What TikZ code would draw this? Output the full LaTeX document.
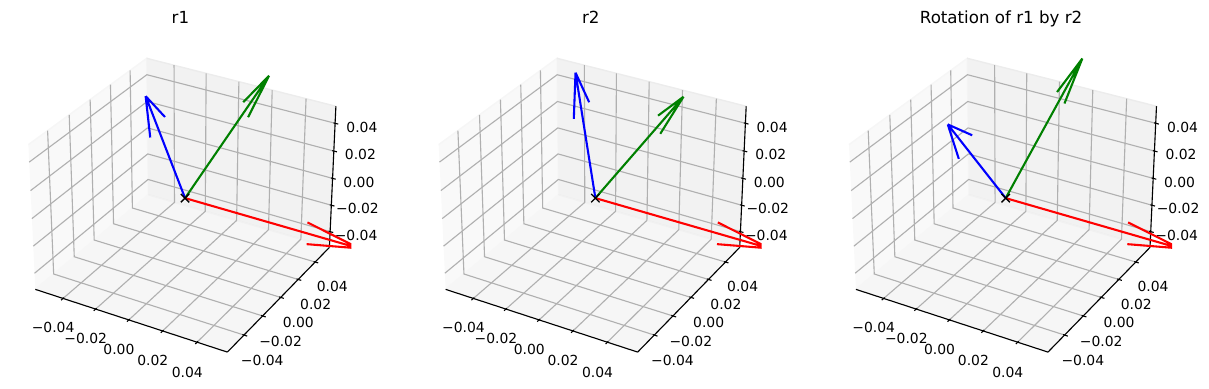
\documentclass[tikz,border=0pt]{standalone}
\usepackage{fontspec}
\setmainfont{DejaVu Sans}
\definecolor{gridc}{HTML}{B0B0B0}
\definecolor{xpanef}{gray}{0.975}
\definecolor{xpanee}{gray}{0.9625}
\definecolor{ypanef}{gray}{0.95}
\definecolor{ypanee}{gray}{0.925}
\definecolor{zpanef}{gray}{0.9625}
\definecolor{zpanee}{gray}{0.94375}
\definecolor{mplgreen}{rgb}{0,0.5,0}
\newcommand\mplL{9.5}
\newcommand\mplT{31.8}
% projection of a data point (x,y,z) of panel #2 to a named coordinate #1
\newcommand\pj[5]{%
  \pgfmathsetmacro\pjdX{10.389610*(#3)}%
  \pgfmathsetmacro\pjdY{10.389610*(#4)}%
  \pgfmathsetmacro\pjdZ{8.571429*(#5)}%
  \pgfmathsetmacro\pjden{10-0.4330127*(\pjdX)+0.75*(\pjdY)-0.5*(\pjdZ)}%
  \pgfmathsetmacro\pjX{\mplL+410.3*(#2)+1848.1*((0.8660254*(\pjdX)+0.5*(\pjdY))/(\pjden)+0.095)}%
  \pgfmathsetmacro\pjY{\mplT+1848.1*(0.09-(-0.25*(\pjdX)+0.4330127*(\pjdY)+0.8660254*(\pjdZ))/(\pjden))}%
  \coordinate (#1) at (\pjX,\pjY);%
}
% 3D quiver arrow (unit direction, length 0.1) as matplotlib draws it
\newcommand\quiv[6]{%
  \pgfmathsetmacro\qa{#3}%
  \pgfmathsetmacro\qb{#4}%
  \pgfmathsetmacro\qc{#5}%
  \pgfmathsetmacro\qn{sqrt((\qa)*(\qa)+(\qb)*(\qb))}%
  \pgfmathsetmacro\qxp{(\qb)/(\qn)}%
  \pgfmathsetmacro\qyp{-1*(\qa)/(\qn)}%
  \pgfmathsetmacro\mAA{0.9659258+(\qxp)*(\qxp)*0.0340742}%
  \pgfmathsetmacro\mAB{(\qxp)*(\qyp)*0.0340742}%
  \pgfmathsetmacro\mAC{(\qyp)*0.2588190}%
  \pgfmathsetmacro\mBB{0.9659258+(\qyp)*(\qyp)*0.0340742}%
  \pgfmathsetmacro\mBC{-1*(\qxp)*0.2588190}%
  \pgfmathsetmacro\mCA{-1*(\qyp)*0.2588190}%
  \pgfmathsetmacro\mCB{(\qxp)*0.2588190}%
  \pgfmathsetmacro\pA{(\mAA)*(\qa)+(\mAB)*(\qb)+(\mAC)*(\qc)}%
  \pgfmathsetmacro\pB{(\mAB)*(\qa)+(\mBB)*(\qb)+(\mBC)*(\qc)}%
  \pgfmathsetmacro\pC{(\mCA)*(\qa)+(\mCB)*(\qb)+0.9659258*(\qc)}%
  \pgfmathsetmacro\nA{(\mAA)*(\qa)-(\mAB)*(\qb)-(\mAC)*(\qc)}%
  \pgfmathsetmacro\nB{-1*(\mAB)*(\qa)+(\mBB)*(\qb)-(\mBC)*(\qc)}%
  \pgfmathsetmacro\nC{-1*(\mCA)*(\qa)-(\mCB)*(\qb)+0.9659258*(\qc)}%
  \pj{#1t}{#2}{0.1*(\qa)}{0.1*(\qb)}{0.1*(\qc)}%
  \pj{#1p}{#2}{0.1*(\qa)-0.03*(\pA)}{0.1*(\qb)-0.03*(\pB)}{0.1*(\qc)-0.03*(\pC)}%
  \pj{#1n}{#2}{0.1*(\qa)-0.03*(\nA)}{0.1*(\qb)-0.03*(\nB)}{0.1*(\qc)-0.03*(\nC)}%
  \draw[quivline,#6] (o#2) -- (#1t) (#1t) -- (#1p) (#1t) -- (#1n);%
}
\begin{document}
\begin{tikzpicture}[x=0.72pt, y=-0.72pt,
  gridline/.style={draw=gridc, line width=0.8pt},
  axisline/.style={draw=black, line width=0.8pt},
  tickmark/.style={draw=black, line width=0.8pt},
  ticklab/.style={inner sep=0pt, anchor=center, font=\fontsize{10}{12}\selectfont, text=black},
  titlelab/.style={inner sep=0pt, anchor=base, font=\fontsize{12}{14}\selectfont, text=black},
  quivline/.style={line width=1.5pt, line cap=butt},
  xmark/.style={draw=black, line width=1pt, line cap=butt}]
\useasboundingbox (0,0) rectangle (1209,389);
\def\xa{0.0572917}
\def\za{0.0520833}
\foreach \k/\ttl/\ang in {0/r1/22.5,1/r2/11.25,2/{Rotation of r1 by r2}/33.75}{
  % cube corners
  \pj{c000-\k}{\k}{-\xa}{-\xa}{-\za}
  \pj{c100-\k}{\k}{\xa}{-\xa}{-\za}
  \pj{c110-\k}{\k}{\xa}{\xa}{-\za}
  \pj{c010-\k}{\k}{-\xa}{\xa}{-\za}
  \pj{c001-\k}{\k}{-\xa}{-\xa}{\za}
  \pj{c111-\k}{\k}{\xa}{\xa}{\za}
  \pj{c011-\k}{\k}{-\xa}{\xa}{\za}
  % panes
  \fill[xpanef] (c000-\k) -- (c010-\k) -- (c011-\k) -- (c001-\k) -- cycle;
  \draw[xpanee, line width=1pt] (c000-\k) -- (c010-\k) -- (c011-\k) -- (c001-\k);
  \fill[ypanef] (c010-\k) -- (c110-\k) -- (c111-\k) -- (c011-\k) -- cycle;
  \draw[ypanee, line width=1pt] (c010-\k) -- (c110-\k) -- (c111-\k) -- (c011-\k);
  \fill[zpanef] (c000-\k) -- (c100-\k) -- (c110-\k) -- (c010-\k) -- cycle;
  \draw[zpanee, line width=1pt] (c000-\k) -- (c100-\k) -- (c110-\k) -- (c010-\k);
  % grid lines
  \foreach \tv in {-0.04,-0.02,0,0.02,0.04}{
    \pj{ga}{\k}{\tv}{-\xa}{-\za}\pj{gb}{\k}{\tv}{\xa}{-\za}\pj{gc}{\k}{\tv}{\xa}{\za}
    \draw[gridline] (ga) -- (gb) -- (gc);
    \pj{ga}{\k}{-\xa}{\tv}{\za}\pj{gb}{\k}{-\xa}{\tv}{-\za}\pj{gc}{\k}{\xa}{\tv}{-\za}
    \draw[gridline] (ga) -- (gb) -- (gc);
    \pj{ga}{\k}{\xa}{\xa}{\tv}\pj{gb}{\k}{-\xa}{\xa}{\tv}\pj{gc}{\k}{-\xa}{-\xa}{\tv}
    \draw[gridline] (ga) -- (gb) -- (gc);
  }
  % axis lines
  \draw[axisline] (c000-\k) -- (c100-\k);
  \draw[axisline] (c110-\k) -- (c100-\k);
  \draw[axisline] (c110-\k) -- (c111-\k);
  % ticks and tick labels
  \foreach \tv/\lab/\ii in {-0.04/−0.04/1,-0.02/−0.02/2,0/0.00/3,0.02/0.02/4,0.04/0.04/5}{
    \pj{ta}{\k}{\tv}{-\xa+0.00091667}{-\za}\pj{tb}{\k}{\tv}{-\xa-0.00183333}{-\za}
    \draw[tickmark] (ta) -- (tb);
    \pj{la}{\k}{\tv}{-0.067569}{-0.061426}
    \path (la) ++(0.5,7.1) node[ticklab] (xl-\k-\ii) {\lab};
    \pj{ta}{\k}{\xa-0.00091667}{\tv}{-\za}\pj{tb}{\k}{\xa+0.00183333}{\tv}{-\za}
    \draw[tickmark] (ta) -- (tb);
    \pj{la}{\k}{0.067569}{\tv}{-0.061426}
    \path (la) ++(0.5,7.1) node[ticklab] (yl-\k-\ii) {\lab};
    \pj{ta}{\k}{\xa-0.00091667}{\xa}{\tv}\pj{tb}{\k}{\xa+0.00183333}{\xa}{\tv}
    \draw[tickmark] (ta) -- (tb);
    \pj{la}{\k}{0.067569}{0.067569}{\tv}
    \path (la) ++(0.5,7.1) node[ticklab] (zl-\k-\ii) {\lab};
  }
  % title
  \node[titlelab] (title-\k) at ({\mplL+410.3*\k+170.95},23.5) {\ttl};
  % data (clipped to the axes box)
  \begin{scope}
    \pgfmathsetmacro\clx{\mplL+410.3*\k}
    \clip (\clx,\mplT) rectangle ++(341.9,341.9);
    \pj{o\k}{\k}{0}{0}{0}
    \quiv{r\k}{\k}{1}{0}{0}{red}
    \quiv{g\k}{\k}{0}{cos(\ang)}{sin(\ang)}{mplgreen}
    \quiv{b\k}{\k}{0}{-sin(\ang)}{cos(\ang)}{blue}
    \draw[xmark] (o\k) ++(-4.17,-4.17) -- ++(8.33,8.33) (o\k) ++(-4.17,4.17) -- ++(8.33,-8.33);
  \end{scope}
}
\end{tikzpicture}
\end{document}
